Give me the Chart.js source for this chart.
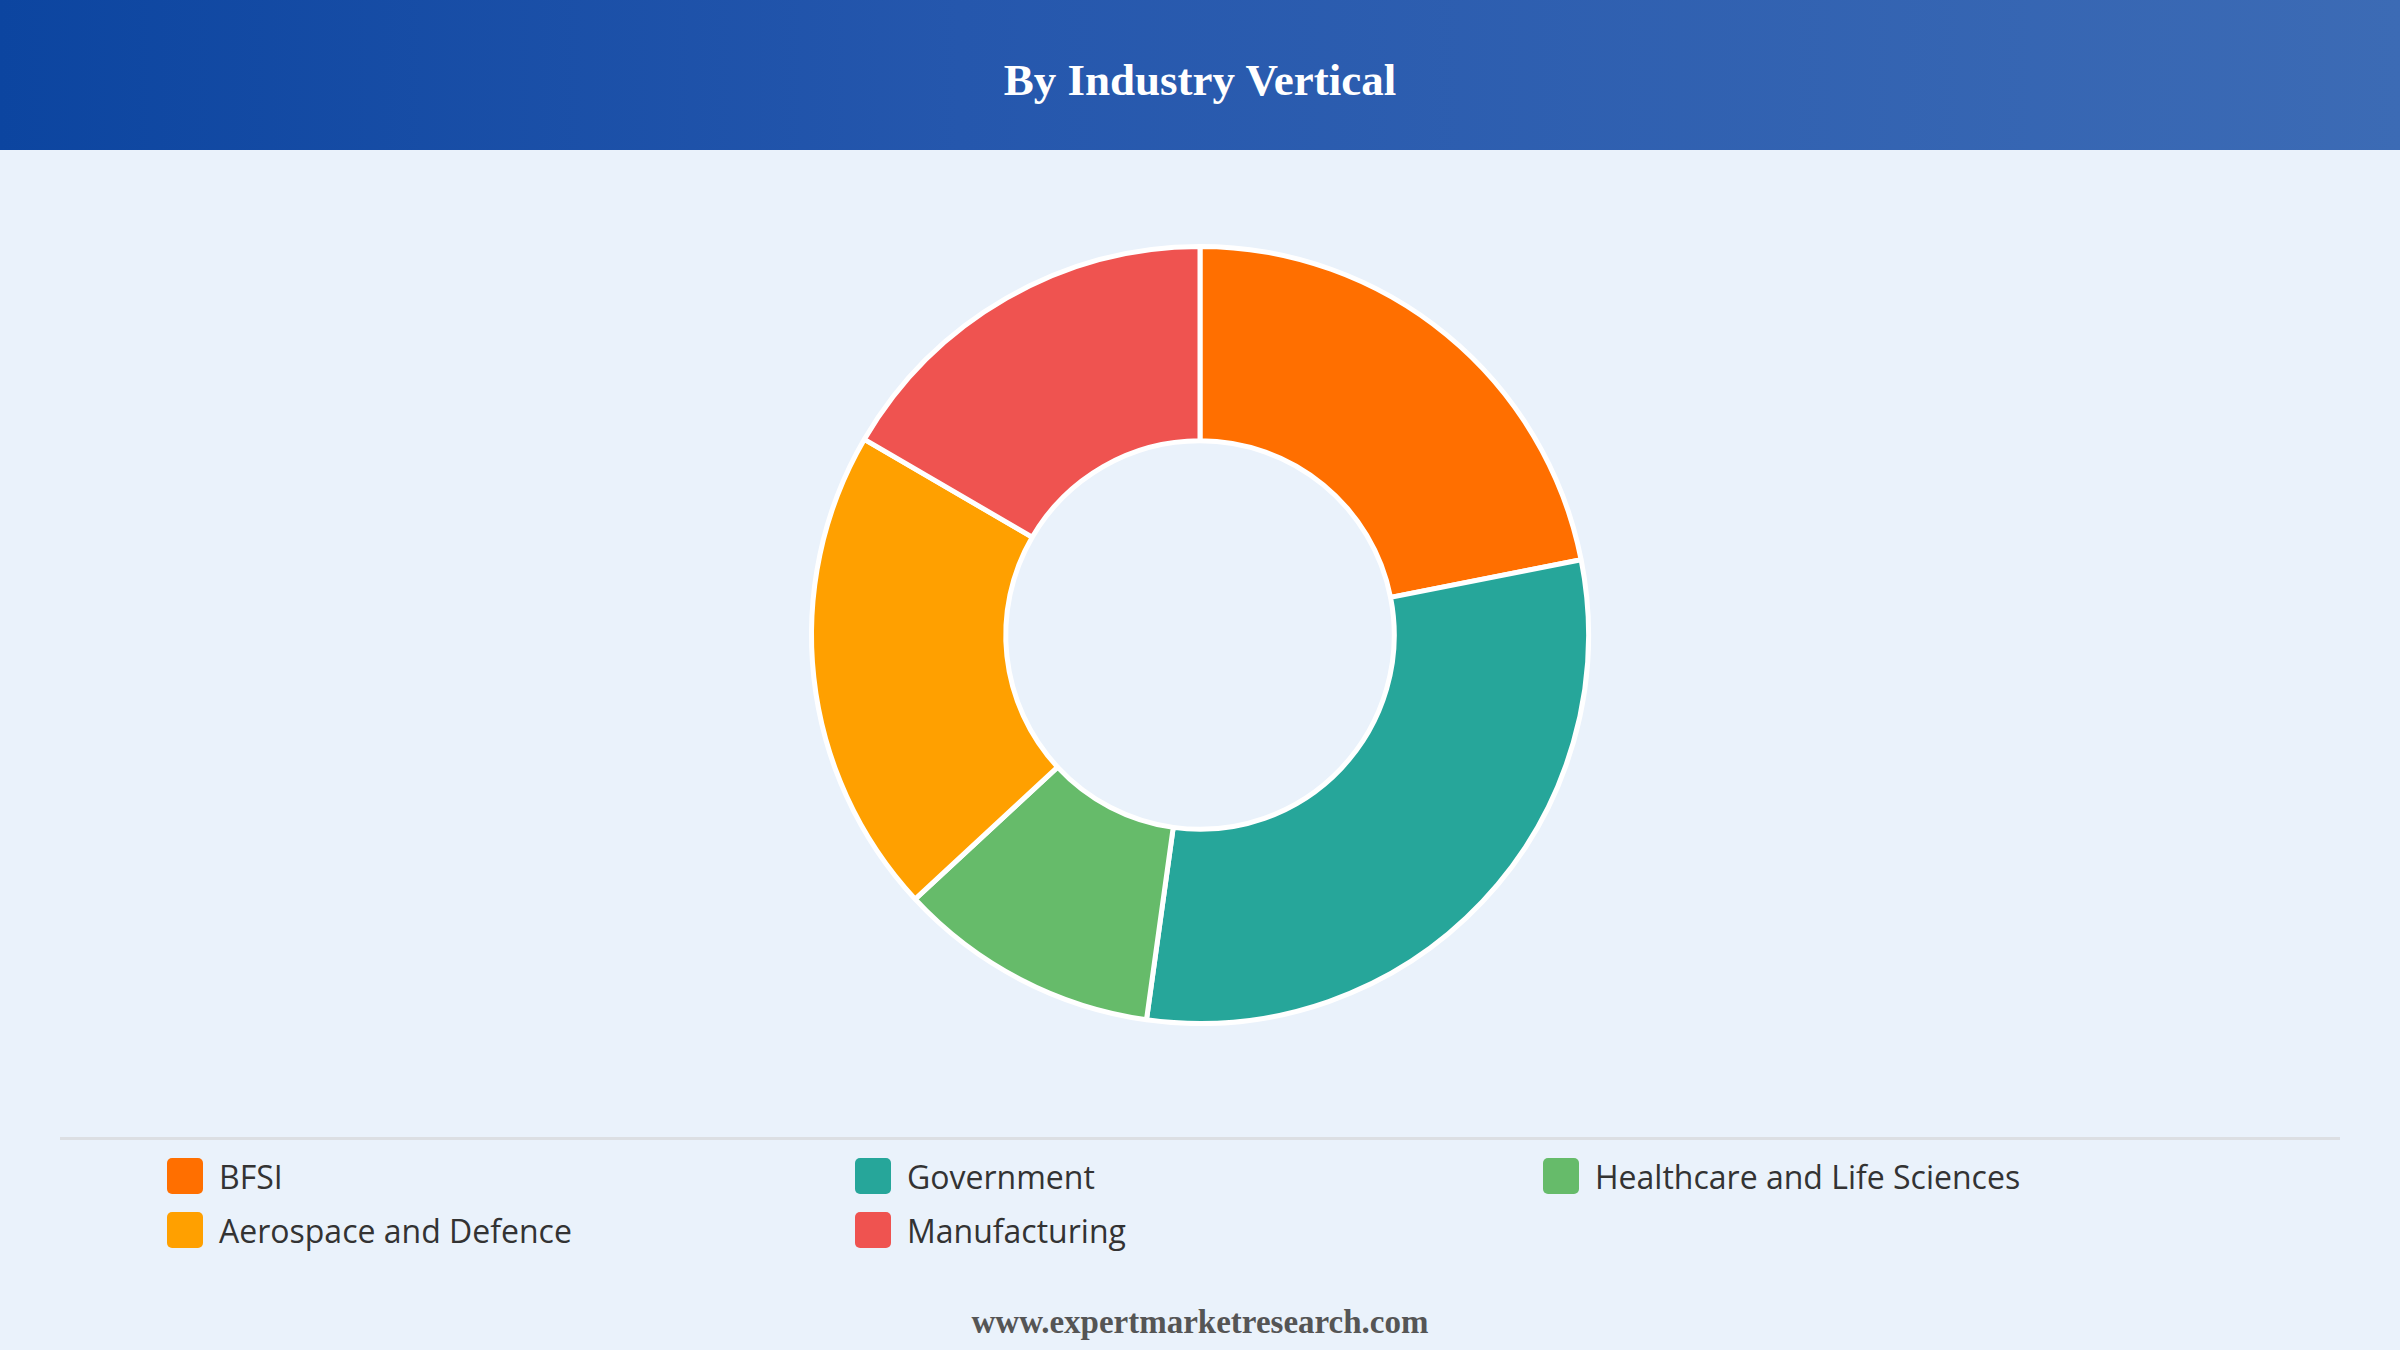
<!DOCTYPE html>
<html>
<head>
<meta charset="utf-8">
<script src="https://cdn.jsdelivr.net/npm/chart.js@4/dist/chart.umd.min.js"></script>
<style>
  html, body { margin: 0; padding: 0; }
  body { width: 2400px; height: 1350px; background: #eaf2fb; position: relative; overflow: hidden; font-family: "Open Sans", "Noto Sans", sans-serif; }
  #cabecera { position: absolute; left: 0; top: 0; width: 2400px; height: 150px; background: linear-gradient(90deg, #0c45a0 0%, #2557ad 40%, #3c6bb5 100%); }
  #cabecera h1 { margin: 0; padding-top: 5px; line-height: 150px; text-align: center; color: #fff; font-family: "Liberation Serif", "DejaVu Serif", serif; font-weight: bold; font-size: 45px; }
  #contenedor-grafico { position: absolute; left: 0; top: 244px; width: 2400px; height: 782px; }
  #linea { position: absolute; left: 60px; top: 1137px; width: 2280px; height: 3px; background: #dcdfe3; }
  #leyenda { position: absolute; left: 167px; top: 1154px; width: 2200px; }
  .item { position: absolute; display: flex; align-items: center; height: 44px; font-size: 32px; color: #333; }
  .caja { width: 36px; height: 36px; border-radius: 5px; margin-right: 16px; }
  #pie { position: absolute; left: 0; top: 1304px; width: 2400px; text-align: center; font-family: "Liberation Serif", "DejaVu Serif", serif; font-weight: bold; font-size: 33px; color: #555; }
</style>
</head>
<body>
<div id="cabecera"><h1>By Industry Vertical</h1></div>
<div id="contenedor-grafico"><canvas id="grafico"></canvas></div>
<div id="linea"></div>
<div id="leyenda"></div>
<div id="pie">www.expertmarketresearch.com</div>

<script>
let etiquetas = ['BFSI', 'Government', 'Healthcare and Life Sciences', 'Aerospace and Defence', 'Manufacturing']
let valores = [21.9, 30.3, 10.9, 20.3, 16.6]
let colores = ['#ff6f00', '#26a69a', '#66bb6a', '#ffa000', '#ef5350']

let grafico = document.getElementById('grafico').getContext('2d')

let chart = new Chart(grafico, {
  type: 'doughnut',
  data: {
    labels: etiquetas,
    datasets: [{
      data: valores,
      backgroundColor: colores,
      borderColor: '#ffffff',
      borderWidth: 5,
      hoverOffset: 0
    }]
  },
  options: {
    responsive: true,
    maintainAspectRatio: false,
    animation: false,
    cutout: '50%',
    layout: { padding: 0 },
    plugins: {
      legend: { display: false },
      tooltip: { enabled: false }
    }
  }
})

// leyenda en html, tres columnas como la original
let leyenda = document.getElementById('leyenda')
let columnas = [0, 688, 1376]
chart.data.labels.forEach((nombre, i) => {
  let item = document.createElement('div')
  item.className = 'item'
  item.style.left = columnas[i % 3] + 'px'
  item.style.top = (Math.floor(i / 3) * 54) + 'px'
  let caja = document.createElement('span')
  caja.className = 'caja'
  caja.style.background = chart.data.datasets[0].backgroundColor[i]
  item.appendChild(caja)
  item.appendChild(document.createTextNode(nombre))
  leyenda.appendChild(item)
})
</script>
</body>
</html>
